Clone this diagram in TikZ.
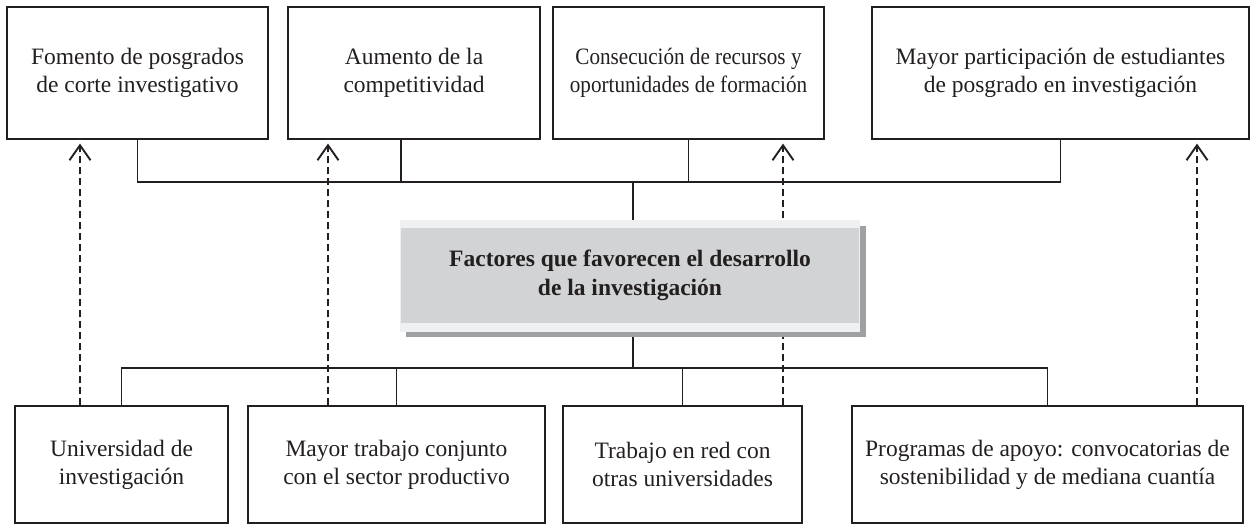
\documentclass[tikz,border=0pt]{standalone}
\usepackage{fontspec}
\setmainfont{Liberation Serif}
\usetikzlibrary{arrows.meta,calc}
\definecolor{cgray}{HTML}{D1D3D4}
\definecolor{clight}{HTML}{EFF0F2}
\definecolor{cshadow}{HTML}{9FA0A2}
\definecolor{ink}{HTML}{231F20}
\pgfdeclarelayer{back}
\pgfsetlayers{back,main}
\begin{document}
\begin{tikzpicture}[x=1pt,y=1pt,
  boxnode/.style={draw=ink, line width=1.2pt, align=center, inner sep=0pt,
    font=\fontsize{23.5}{28}\selectfont, text=ink},
  topbox/.style={boxnode, minimum height=132pt},
  botbox/.style={boxnode, minimum height=117pt},
  link/.style={draw=ink, line width=1.3pt},
  dasharrow/.style={draw=ink, line width=1.9pt, dash pattern=on 7pt off 4pt,
    -{Straight Barb[length=15pt,width=21pt,line width=1.9pt]}, shorten >=4pt}]
\useasboundingbox (0,0) rectangle (1253,-524);

% central composite box
\fill[cshadow] (406,-226) rectangle (866,-337);
\fill[clight] (400,-220) rectangle (860,-332);
\node[fill=cgray, inner sep=0pt, minimum width=458pt, minimum height=95pt,
  align=center, font=\fontsize{23.5}{29}\selectfont\bfseries, text=ink]
  (cf) at (630,-275.5) {Factores que favorecen el desarrollo\\de la investigación};

% top boxes
\node[topbox, minimum width=261pt] (b1) at (137.5,-73) {Fomento de posgrados\\de corte investigativo};
\node[topbox, minimum width=252pt] (b2) at (414,-73) {Aumento de la\\competitividad};
\node[topbox, minimum width=271pt] (b3) at (688.5,-73) {\scalebox{0.9}[1]{\begin{tabular}{@{}c@{}}Consecución de recursos y\\oportunidades de formación\end{tabular}}};
\node[topbox, minimum width=377pt] (b4) at (1060.5,-73) {Mayor participación de estudiantes\\de posgrado en investigación};

% bottom boxes
\node[botbox, minimum width=213pt] (b5) at (121.5,-464.5) {Universidad de\\investigación};
\node[botbox, minimum width=297pt] (b6) at (396.5,-464.5) {Mayor trabajo conjunto\\con el sector productivo};
\node[botbox, minimum width=239pt] (b7) at (682.5,-464.5) {Trabajo en red con\\otras universidades};
\node[botbox, minimum width=391pt] (b8) at (1047.5,-464.5) {Programas de apoyo: convocatorias de\\sostenibilidad y de mediana cuantía};

% bus coordinates
\coordinate (tbus) at (633,-182);
\coordinate (bbus) at (633,-368);
\coordinate (k2) at (401,-182);
\coordinate (a1) at (80,0);
\coordinate (a2) at (328,0);
\coordinate (a3) at (783,0);
\coordinate (a4) at (1197,0);

% solid connectors
\draw[link] (b1.south) |- (tbus) -| (b4.south);
\draw[link] (k2) -- (k2 |- b2.south);
\draw[link] (b3.south) -- (b3.south |- tbus);
\draw[link] (b5.north) |- (bbus) -| (b8.north);
\draw[link] (b6.north) -- (b6.north |- bbus);
\draw[link] (b7.north) -- (b7.north |- bbus);

\begin{pgfonlayer}{back}
\draw[link] (tbus) -- (tbus |- cf.north);
\draw[link] (bbus |- cf.south) -- (bbus);
\draw[dasharrow] (b5.north -| a1) -- (b1.south -| a1);
\draw[dasharrow] (b6.north -| a2) -- (b2.south -| a2);
\draw[dasharrow] (b7.north -| a3) -- (b3.south -| a3);
\draw[dasharrow] (b8.north -| a4) -- (b4.south -| a4);
\end{pgfonlayer}
\end{tikzpicture}
\end{document}
